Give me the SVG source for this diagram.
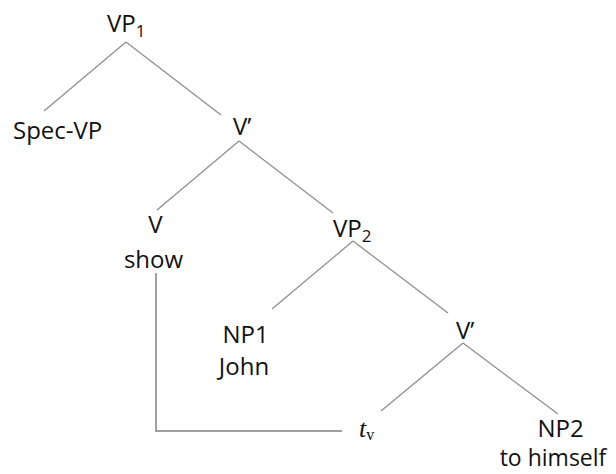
<svg xmlns="http://www.w3.org/2000/svg" width="616" height="474" viewBox="0 0 616 474">
<style>
text{font-family:"Open Sans","Noto Sans",sans-serif;font-size:24px;fill:#111}
.sub{font-size:17px}
.edge{stroke:#8c8c8c;stroke-width:1.2;fill:none}
.move{stroke:#a0a0a0;stroke-width:2;fill:none}
</style>
<rect width="616" height="474" fill="#fff"/>
<g id="connectors">
<line class="edge" x1="126" y1="42" x2="44" y2="111"/>
<line class="edge" x1="126" y1="42" x2="221" y2="115"/>
<line class="edge" x1="239" y1="141" x2="157" y2="210"/>
<line class="edge" x1="239" y1="141" x2="333" y2="213"/>
<line class="edge" x1="353" y1="241" x2="272" y2="309"/>
<line class="edge" x1="353" y1="241" x2="448" y2="313"/>
<line class="edge" x1="463" y1="343" x2="381" y2="411"/>
<line class="edge" x1="463" y1="343" x2="558" y2="414"/>
<polyline class="move" points="156,273 156,431 342,431"/>
</g>
<g id="vp1"><text x="107" y="32">VP<tspan class="sub" dy="5">1</tspan></text></g>
<g id="specvp"><text x="13" y="139">Spec-VP</text></g>
<g id="vbar1"><text x="233" y="135">V’</text></g>
<g id="v"><text x="155.5" y="233" text-anchor="middle">V</text><text x="153.5" y="268" text-anchor="middle">show</text></g>
<g id="vp2"><text x="333" y="237">VP<tspan class="sub" dy="5">2</tspan></text></g>
<g id="np1"><text x="245.5" y="343" text-anchor="middle">NP1</text><text x="244" y="375" text-anchor="middle">John</text></g>
<g id="vbar2"><text x="456" y="339">V’</text></g>
<g id="trace"><text x="359" y="437" font-style="italic" style="font-family:'Liberation Serif',serif;font-size:26px">t<tspan style="font-style:normal;font-size:16px" dy="3">v</tspan></text></g>
<g id="np2"><text x="560.5" y="437" text-anchor="middle">NP2</text><text x="553" y="466" text-anchor="middle" style="font-size:23px">to himself</text></g>
</svg>
